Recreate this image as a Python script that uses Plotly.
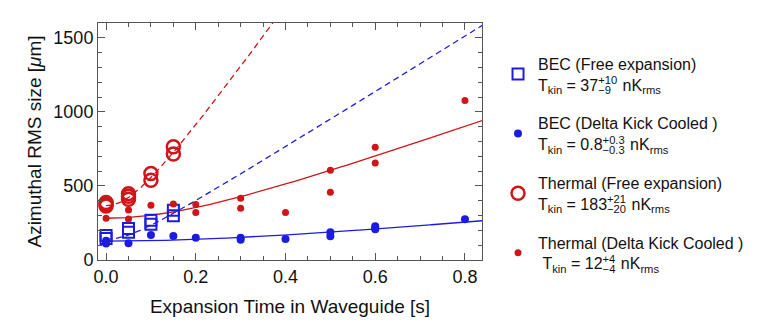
import numpy as np
import plotly.graph_objects as go

# ---------------- data ----------------
# BEC, free expansion (open squares)
bec_free_t = [0.0, 0.0, 0.05, 0.05, 0.1, 0.1, 0.15, 0.15]
bec_free_s = [165, 145, 212, 188, 268, 242, 336, 298]

# BEC, delta-kick cooled (filled dots)
bec_dkc_t = [0.0, 0.0, 0.0, 0.05, 0.1, 0.15, 0.2, 0.3, 0.3, 0.4, 0.5, 0.5, 0.6, 0.6, 0.6, 0.8]
bec_dkc_s = [130, 118, 112, 113, 168, 162, 151, 150, 136, 142, 187, 160, 228, 216, 207, 275]

# Thermal, free expansion (open circles)
th_free_t = [0.0, 0.0, 0.0, 0.05, 0.05, 0.05, 0.1, 0.1, 0.15, 0.15]
th_free_s = [388, 375, 365, 448, 430, 410, 584, 538, 764, 716]

# Thermal, delta-kick cooled (small dots)
th_dkc_t = [0.0, 0.05, 0.05, 0.1, 0.15, 0.2, 0.2, 0.3, 0.3, 0.4, 0.5, 0.5, 0.6, 0.6, 0.8]
th_dkc_s = [282, 338, 277, 370, 378, 374, 320, 417, 349, 320, 606, 457, 761, 655, 1076]

# fit parameters: initial size [um] and kinetic temperature [nK]
fit_sigma0 = {"bec_free": 140, "bec_dkc": 128, "th_free": 367, "th_dkc": 282}
fit_T_nK = {"bec_free": 37, "bec_dkc": 0.8, "th_free": 183, "th_dkc": 12}

x_ticks = [0.0, 0.2, 0.4, 0.6, 0.8]
x_ticklabels = ["0.0", "0.2", "0.4", "0.6", "0.8"]
y_ticks = [0, 500, 1000, 1500]

legend_names = [
    "BEC (Free expansion)",
    "BEC (Delta Kick Cooled )",
    "Thermal (Free expansion)",
    "Thermal (Delta Kick Cooled )",
]
legend_T = [("37", "+10", "−9"), ("0.8", "+0.3", "−0.3"), ("183", "+21", "−20"), ("12", "+4", "−4")]
legend_indent = ["", "", "", "\u00a0"]

# ---------------- styling ----------------
RED = "#d01418"
BLUE = "#1c1ce0"
FONT = "Liberation Sans, Arial, sans-serif"
LEG_SIZE = 16

kB = 1.380649e-23
m_Rb = 86.909 * 1.66054e-27


def fit_curve(key, t):
    v2 = kB * fit_T_nK[key] * 1e-9 / m_Rb  # m^2/s^2
    return np.sqrt(fit_sigma0[key] ** 2 + v2 * 1e12 * t ** 2)


t_line = np.linspace(0, 0.84, 300)


def _w(s):
    return sum(0.584 if c in "+−" else (0.278 if c == "." else 0.556) for c in s) * LEG_SIZE * 0.7


def sup_sub(base, sup, sub):
    # stacked super/subscript: pull the subscript back under the superscript
    sp = 0.278 * LEG_SIZE
    back = -(_w(sup) + sp)
    fwd = max(0.0, _w(sup) - _w(sub))
    return (f"T<sub>kin</sub> = {base}<sup>{sup}</sup>"
            f"<span style=\"letter-spacing:{back:.1f}px\"> </span><sub>{sub}</sub>"
            f"<span style=\"letter-spacing:{fwd + 1:.1f}px\"> </span>nK<sub>rms</sub>")


def lname(i):
    return legend_names[i] + "<br>" + legend_indent[i] + sup_sub(*legend_T[i])


fig = go.Figure()

# fit lines
fig.add_trace(go.Scatter(x=t_line, y=fit_curve("th_free", t_line), mode="lines",
                         line=dict(color=RED, width=1.3, dash="6px,4px"), showlegend=False, hoverinfo="skip"))
fig.add_trace(go.Scatter(x=t_line, y=fit_curve("bec_free", t_line), mode="lines",
                         line=dict(color=BLUE, width=1.3, dash="6px,4px"), showlegend=False, hoverinfo="skip"))
fig.add_trace(go.Scatter(x=t_line, y=fit_curve("th_dkc", t_line), mode="lines",
                         line=dict(color=RED, width=1.3), showlegend=False, hoverinfo="skip"))
fig.add_trace(go.Scatter(x=t_line, y=fit_curve("bec_dkc", t_line), mode="lines",
                         line=dict(color=BLUE, width=1.3), showlegend=False, hoverinfo="skip"))

# data
fig.add_trace(go.Scatter(x=bec_free_t, y=bec_free_s, mode="markers", name=lname(0), legendgroup="a",
                         marker=dict(symbol="square-open", size=11, color=BLUE, line=dict(width=2))))
fig.add_trace(go.Scatter(x=bec_dkc_t, y=bec_dkc_s, mode="markers", name=lname(1), legendgroup="b",
                         marker=dict(symbol="circle", size=8, color=BLUE)))
fig.add_trace(go.Scatter(x=th_free_t, y=th_free_s, mode="markers", name=lname(2), legendgroup="c",
                         marker=dict(symbol="circle-open", size=13, color=RED, line=dict(width=2.5))))
fig.add_trace(go.Scatter(x=th_dkc_t, y=th_dkc_s, mode="markers", name=lname(3), legendgroup="d",
                         marker=dict(symbol="circle", size=7, color=RED)))

axis_common = dict(
    showgrid=False, zeroline=False, showline=True, linecolor="#555", linewidth=1,
    mirror="ticks", ticks="inside", tickcolor="#555", ticklen=7, tickwidth=1,
    tickfont=dict(family=FONT, size=18, color="#111"),
)

fig.update_xaxes(
    range=[-0.018, 0.838], tickvals=x_ticks, ticktext=x_ticklabels,
    minor=dict(dtick=0.05, tick0=0, ticks="inside", ticklen=4, tickcolor="#555"),
    title=dict(text="Expansion Time in Waveguide [s]", font=dict(family=FONT, size=19, color="#111"), standoff=14),
    **axis_common,
)
fig.update_yaxes(
    range=[0, 1600], tickvals=y_ticks,
    minor=dict(dtick=100, tick0=0, ticks="inside", ticklen=4, tickcolor="#555"),
    title=dict(text="Azimuthal RMS size [<i>μ</i>m]", font=dict(family=FONT, size=19, color="#111"), standoff=6),
    **axis_common,
)

fig.update_layout(
    width=760, height=333,
    margin=dict(l=98, r=277, t=23, b=73),
    paper_bgcolor="white", plot_bgcolor="white",
    font=dict(family=FONT, color="#111"),
    legend=dict(
        x=1.039, xanchor="left", y=0.9, yanchor="top",
        font=dict(family=FONT, size=LEG_SIZE, color="#111"),
        tracegroupgap=15, traceorder="grouped", bgcolor="rgba(0,0,0,0)",
    ),
)

fig.write_html("out.html")
